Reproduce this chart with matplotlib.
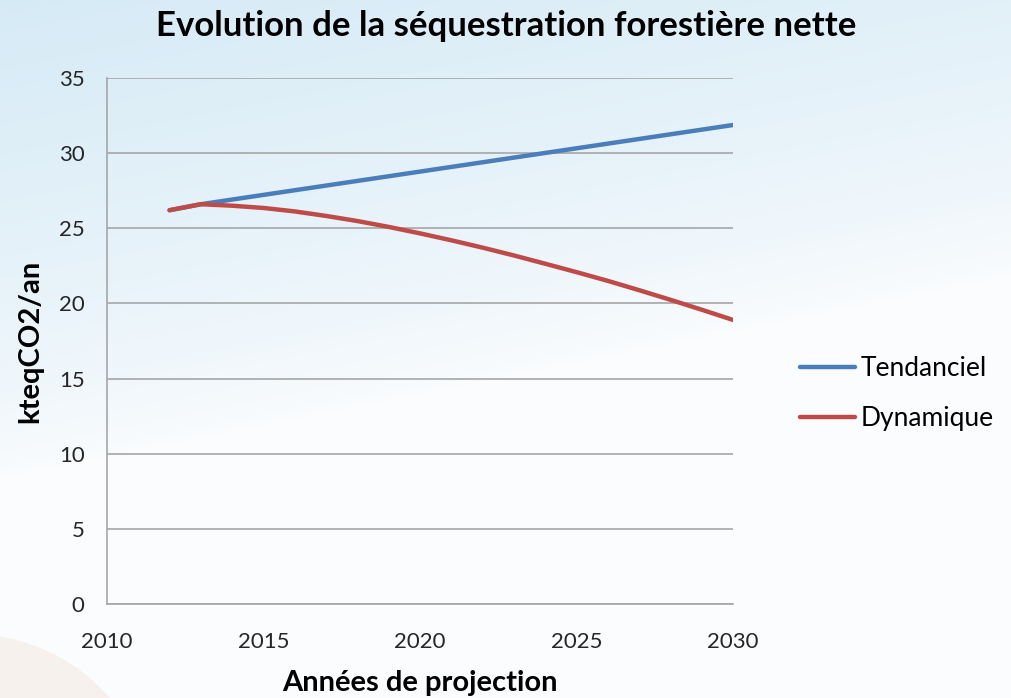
import numpy as np
import matplotlib
matplotlib.use("Agg")
import matplotlib.pyplot as plt
from matplotlib.patches import Circle

plt.rcParams["font.family"] = ["Lato", "DejaVu Sans"]

years = list(range(2012, 2031))
tendanciel = [26.2, 26.6, 26.91, 27.22, 27.53, 27.84, 28.15, 28.46, 28.77, 29.08,
              29.39, 29.7, 30.01, 30.32, 30.63, 30.94, 31.25, 31.56, 31.87]
dynamique = [26.2, 26.6, 26.5, 26.35, 26.12, 25.82, 25.48, 25.09, 24.66, 24.2,
             23.71, 23.19, 22.64, 22.08, 21.5, 20.88, 20.24, 19.58, 18.9]
series_names = ["Tendanciel", "Dynamique"]
series_colors = ["#4a7ebb", "#be4b48"]
x_ticks = [2010, 2015, 2020, 2025, 2030]
y_ticks = [0, 5, 10, 15, 20, 25, 30, 35]

fig = plt.figure(figsize=(10.12, 6.98), dpi=100)

# sky-like background
bg = fig.add_axes([0, 0, 1, 1], zorder=-10)
h, w = 698, 1012
yy, xx = np.mgrid[0:h, 0:w]
t = np.clip(1 - yy / 480.0 - xx / 2400.0, 0, 1)
top = np.array([0.84, 0.92, 0.965])
low = np.array([0.985, 0.99, 0.995])
img = low + (top - low) * t[..., None] ** 0.7
bg.imshow(img, extent=[0, w, h, 0], aspect="auto")
bg.add_patch(Circle((-30, 820), 185, color="#f6f1ec", zorder=2))
bg.set_xlim(0, w)
bg.set_ylim(h, 0)
bg.axis("off")

ax = fig.add_axes([0.1057, 0.1347, 0.6186, 0.7536])
ax.patch.set_alpha(0)
lines = []
for vals, name, col in zip([tendanciel, dynamique], series_names, series_colors):
    ln, = ax.plot(years, vals, color=col, lw=3.2, label=name, solid_capstyle="round")
    lines.append(ln)

ax.set_xlim(2010, 2030)
ax.set_ylim(0, 35)
ax.set_xticks(x_ticks)
ax.set_yticks(y_ticks)
ax.grid(axis="y", color="#a6a6a6", lw=1.2)
ax.set_axisbelow(True)
for s in ["top", "right"]:
    ax.spines[s].set_visible(False)
for s in ["left", "bottom"]:
    ax.spines[s].set_color("#a6a6a6")
    ax.spines[s].set_linewidth(1.2)
ax.tick_params(axis="x", length=0, pad=20, labelsize=16, labelcolor="#262626")
ax.tick_params(axis="y", length=0, pad=16, labelsize=16, labelcolor="#262626")

fig.text(0.415, 0.021, "Années de projection", fontsize=21, fontweight="bold",
         ha="center", va="center")
fig.text(0.030, 0.511, "kteqCO2/an", rotation=90, fontsize=21, fontweight="bold",
         ha="center", va="center")
fig.text(0.5, 0.963, "Evolution de la séquestration forestière nette",
         fontsize=25, fontweight="bold", ha="center", va="center")

fig.legend(handles=lines, loc="center left", bbox_to_anchor=(0.7905, 0.436),
           frameon=False, fontsize=19, handlelength=2.1, handletextpad=0.2,
           labelspacing=0.95, borderpad=0, borderaxespad=0)

fig.savefig("out.png", dpi=100)
